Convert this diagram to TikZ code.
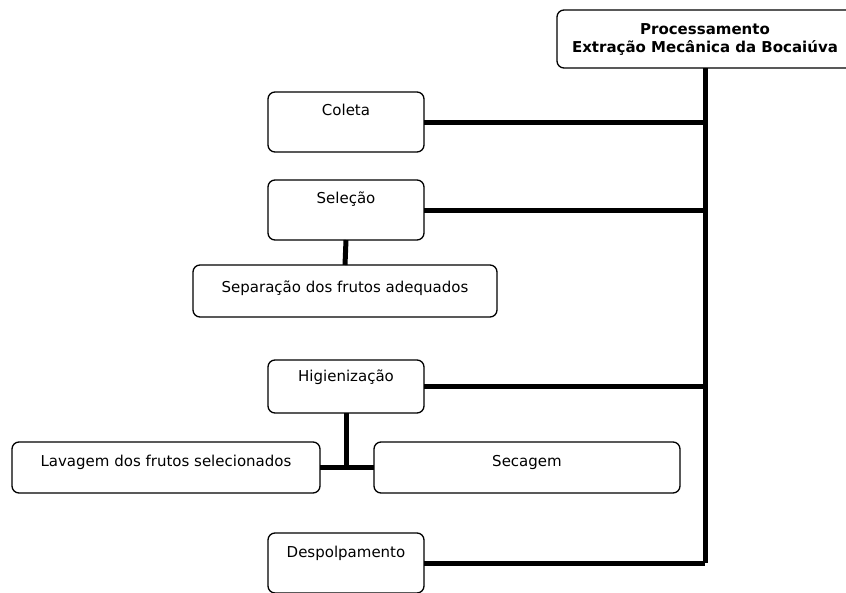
\documentclass[tikz,border=0pt]{standalone}
\usepackage{fontspec}
\setmainfont{DejaVu Sans}
\usepackage{tikz}
\usetikzlibrary{positioning, calc}

\begin{document}
\begin{tikzpicture}[
  x=1pt, y=-1pt,
  sbox/.style={draw, rounded corners=7pt, line width=1.3pt, inner sep=0pt, outer sep=0pt, anchor=north west, align=center, font=\fontsize{15}{18}\selectfont},
  link/.style={line width=5pt}
]
  \useasboundingbox (0,0) rectangle (846,592);

  \node[sbox, anchor=center, minimum width=296pt, minimum height=58pt, font=\bfseries\fontsize{15}{18}\selectfont] (proc) at (705,39) {Processamento\\Extração Mecânica da Bocaiúva};

  \node[sbox, minimum width=156pt, text height=23pt, text depth=37pt] (coleta) at (268,92) {Coleta};
  \node[sbox, minimum width=156pt, text height=23pt, text depth=37pt] (selecao) at (268,180) {Seleção};
  \node[sbox, minimum width=304pt, text height=27pt, text depth=25pt] (separa) at (193,265) {Separação dos frutos adequados};
  \node[sbox, minimum width=156pt, text height=21pt, text depth=32pt] (higien) at (268,360) {Higienização};
  \node[sbox, minimum width=308pt, text height=24pt, text depth=27pt] (lavagem) at (12,442) {Lavagem dos frutos selecionados};
  \node[sbox, minimum width=306pt, text height=24pt, text depth=27pt] (secagem) at (374,442) {Secagem};
  \node[sbox, minimum width=156pt, text height=24pt, text depth=36pt] (despolpa) at (268,533) {Despolpamento};

  \draw[link] (proc.south) -- (proc.south |- despolpa.east);
  \draw[link] (coleta.east) -- (coleta.east -| proc.south);
  \draw[link] (selecao.east) -- (selecao.east -| proc.south);
  \draw[link] (higien.east) -- (higien.east -| proc.south);
  \draw[link] (despolpa.east) -- (despolpa.east -| proc.south);
  \draw[link] (selecao.south) -- (separa.north);
  \draw[link] (higien.south) -- (higien.south |- lavagem.east);
  \draw[link] (lavagem.east) -- (secagem.west);
\end{tikzpicture}
\end{document}
